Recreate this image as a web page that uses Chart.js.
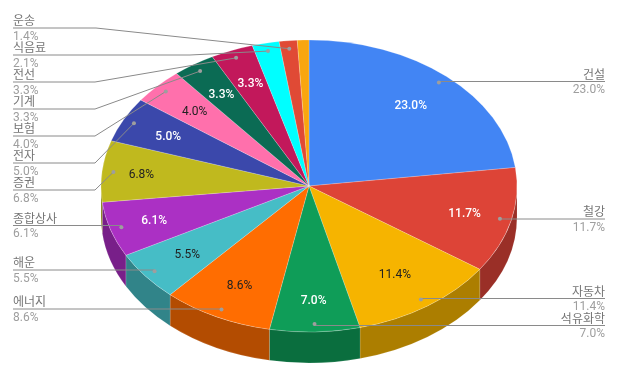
<!DOCTYPE html>
<html>
<head>
<meta charset="utf-8">
<script src="https://cdn.jsdelivr.net/npm/chart.js@4/dist/chart.umd.min.js"></script>
<style>
  html, body { margin: 0; padding: 0; background: #ffffff; }
  canvas { display: block; }
</style>
</head>
<body>
<canvas id="pieChart" width="617" height="381"></canvas>
<script>
const categories = ["건설", "철강", "자동차", "석유화학", "에너지", "해운", "종합상사", "증권", "전자", "보험", "기계", "전선", "식음료", "운송", "기타"];
const shares = [23.0, 11.7, 11.4, 7.0, 8.6, 5.5, 6.1, 6.8, 5.0, 4.0, 3.3, 3.3, 2.1, 1.4, 0.9];
const sliceColors = ["#4285f4", "#dd4437", "#f6b400", "#0f9d58", "#ff6d01", "#46bdc6", "#ab30c4", "#c0b91e", "#3b48ab", "#ff70ac", "#0b6b54", "#c2185b", "#00ffff", "#e04a35", "#f9a60f"];
const sideColors = ["#2e5dab", "#9a2f27", "#ac7e00", "#0a6e3e", "#b34c01", "#318489", "#781f89", "#868215", "#293278", "#b34e78", "#084b3b", "#881140", "#00b3b3", "#9d3425", "#ae740a"];
const labelColors = ["#fff", "#fff", "#222", "#fff", "#222", "#222", "#fff", "#222", "#fff", "#222", "#fff", "#fff", null, null, null];

// layout only: underline y of each callout, its elbow x, how far out the percent label sits
const calloutY = [81.5, 219, 298.5, 325.5, 309, 270, 225.5, 190, 163, 136, 109, 82, 55, 28, null];
const calloutElbow = [null, null, null, null, null, null, null, 95, 95, 95, 95, 95, 190, 96, null];
const labelRatio = [0.74, 0.77, 0.725, 0.78, 0.75, 0.745, 0.78, 0.81, 0.76, 0.755, 0.76, 0.76];

const SQUASH = 146 / 208;
const DEPTH = 31;
const RADIUS = 208;
const FONT = "Roboto, 'Noto Sans CJK KR', sans-serif";

// point on the flattened pie, ratio is a share of the radius
function piePoint(arc, ratio) {
  const mid = (arc.startAngle + arc.endAngle) / 2;
  return {
    x: arc.x + Math.cos(mid) * arc.outerRadius * ratio,
    y: arc.y + Math.sin(mid) * arc.outerRadius * ratio * SQUASH,
  };
}

// Plugin to draw the side wall and flatten the pie
const tiltPlugin = {
  id: "tiltedPie",
  beforeDatasetsDraw: (chart) => {
    const { ctx } = chart;
    const arcs = chart.getDatasetMeta(0).data;
    const { x, y, outerRadius } = arcs[0];
    ctx.save();
    arcs.forEach((arc, i) => {
      // only the lower half of the pie shows a wall
      const from = Math.max(arc.startAngle, 0);
      const to = Math.min(arc.endAngle, Math.PI);
      if (to <= from) return;
      ctx.beginPath();
      ctx.ellipse(x, y, outerRadius, outerRadius * SQUASH, 0, from, to);
      ctx.ellipse(x, y + DEPTH, outerRadius, outerRadius * SQUASH, 0, to, from, true);
      ctx.closePath();
      ctx.fillStyle = sideColors[i];
      ctx.fill();
      ctx.strokeStyle = "rgba(255,255,255,0.25)";
      ctx.lineWidth = 0.5;
      ctx.stroke();
    });
    ctx.restore();
    ctx.save();
    ctx.translate(0, y);
    ctx.scale(1, SQUASH);
    ctx.translate(0, -y);
  },
  afterDatasetsDraw: (chart) => {
    chart.ctx.restore();
  },
};

// Plugin for the percent labels, leader lines and category text
const labelPlugin = {
  id: "pieLabels",
  afterDraw: (chart) => {
    const { ctx } = chart;
    const arcs = chart.getDatasetMeta(0).data;
    ctx.save();
    arcs.forEach((arc, i) => {
      if (calloutY[i] === null) return;
      const dot = piePoint(arc, 0.945);
      const lineY = calloutY[i];
      const onLeft = i >= 4;
      const lineX = onLeft ? 13 : 605;
      const elbow = calloutElbow[i] === null ? dot.x : calloutElbow[i];

      ctx.beginPath();
      ctx.moveTo(lineX, lineY);
      ctx.lineTo(elbow, lineY);
      ctx.lineTo(dot.x, dot.y);
      ctx.strokeStyle = "#8a8a8a";
      ctx.lineWidth = 1;
      ctx.stroke();

      ctx.beginPath();
      ctx.arc(dot.x, dot.y, 2, 0, Math.PI * 2);
      ctx.fillStyle = "#9e9e9e";
      ctx.fill();

      ctx.textAlign = onLeft ? "left" : "right";
      ctx.textBaseline = "alphabetic";
      ctx.font = "12px " + FONT;
      ctx.fillStyle = "#757575";
      ctx.fillText(categories[i], lineX, lineY - 3);
      ctx.fillStyle = "#9e9e9e";
      ctx.fillText(shares[i].toFixed(1) + "%", lineX, lineY + 11.5);
    });
    arcs.forEach((arc, i) => {
      if (!labelColors[i]) return;
      const pos = piePoint(arc, labelRatio[i]);
      ctx.textAlign = "center";
      ctx.textBaseline = "middle";
      ctx.font = (labelColors[i] === "#fff" ? "500 " : "") + "12px " + FONT;
      ctx.fillStyle = labelColors[i];
      ctx.fillText(shares[i].toFixed(1) + "%", pos.x, pos.y + 1.5);
    });
    ctx.restore();
  },
};

new Chart(document.getElementById("pieChart").getContext("2d"), {
  type: "pie",
  data: {
    labels: categories,
    datasets: [
      {
        data: shares,
        backgroundColor: sliceColors,
        borderColor: "rgba(255,255,255,0.35)",
        borderWidth: 0.7,
      },
    ],
  },
  options: {
    responsive: false,
    animation: false,
    radius: RADIUS,
    layout: { padding: { left: 1, bottom: 9 } },
    plugins: {
      legend: { display: false },
      tooltip: { enabled: false },
    },
  },
  plugins: [tiltPlugin, labelPlugin],
});
</script>
</body>
</html>
